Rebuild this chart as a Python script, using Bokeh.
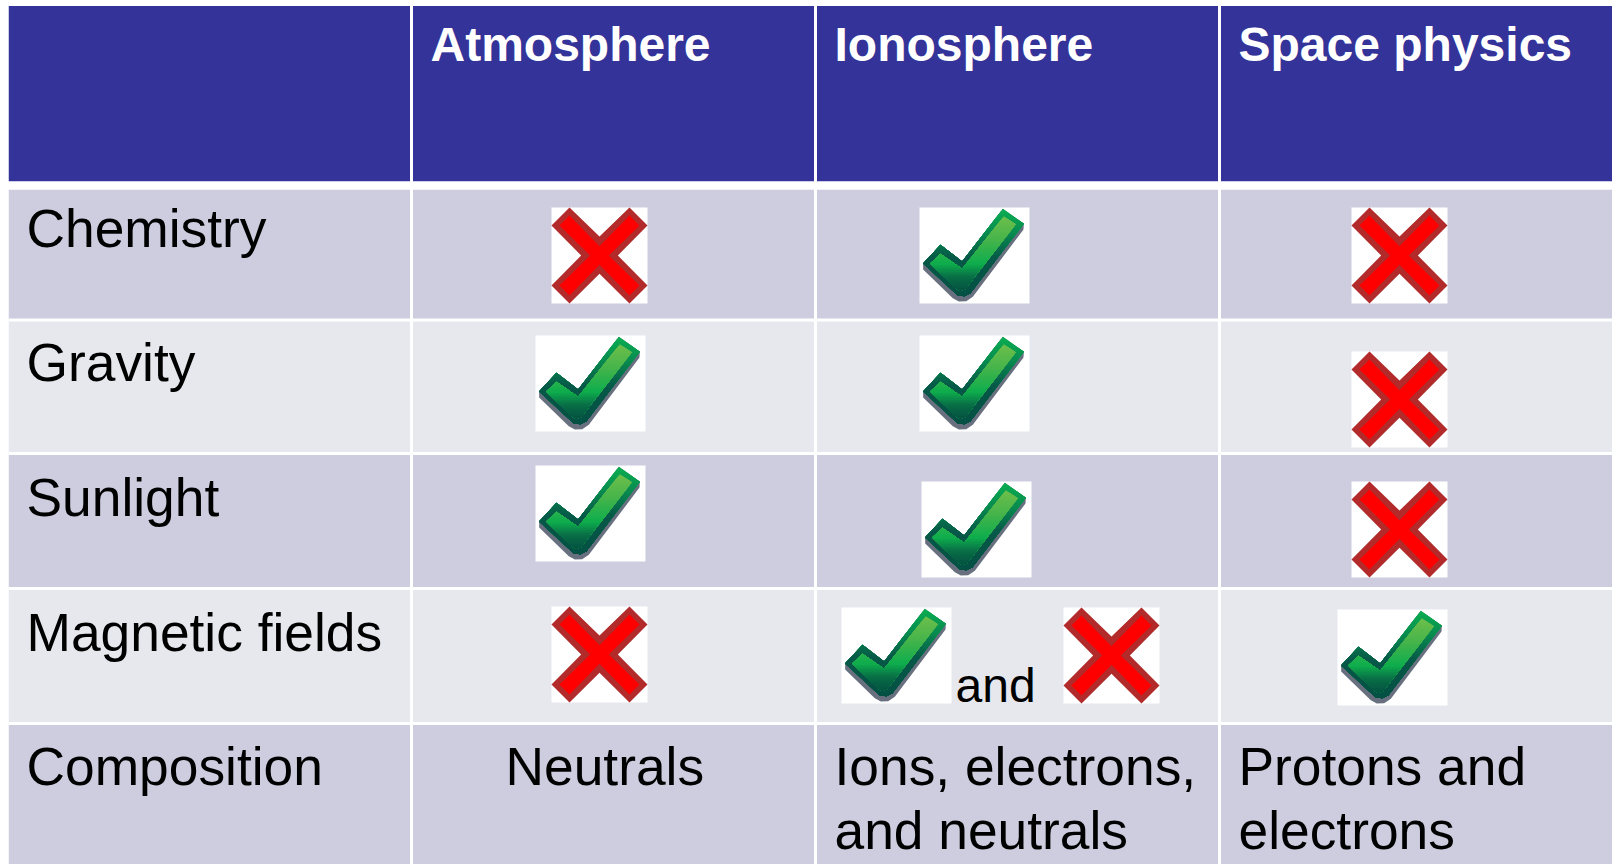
from bokeh.plotting import figure
from bokeh.embed import file_html
from bokeh.resources import INLINE
from bokeh.core.properties import value
from bokeh.models import Range1d
import numpy as np

# ---- content ----
columns = ["Atmosphere", "Ionosphere", "Space physics"]
rows = ["Chemistry", "Gravity", "Sunlight", "Magnetic fields", "Composition"]
marks_atmosphere = ["x", "check", "check", "x"]
marks_ionosphere = ["check", "check", "check", "check+x"]
marks_space = ["x", "x", "x", "check"]
composition = ["Neutrals", "Ions, electrons,\nand neutrals", "Protons and\nelectrons"]

# ---- layout (page pixels) ----
W, H = 1612, 864
COL_EDGES = [8, 411, 815, 1219, 1612]
ROW_EDGES = [189, 319.5, 453, 588, 723, 864]
HEAD_TOP, HEAD_BOTTOM = 5.5, 181
GRID_W = 3
TEXT_X = [26, 430, 834, 1238]
TEXT_DY = -0.36          # share of the font size
HEAD_BASE = 61
ROW_BASE = [247, 381, 516, 651, 785]
LINE_GAP = 64
NEUTRALS_X = 505
ICON_CHECK_W, ICON_H, ICON_X_W = 110, 96, 96
POS = {
    (0, 0): [551, 207], (1, 0): [919, 207], (2, 0): [1351, 207],
    (0, 1): [535, 335], (1, 1): [919, 335], (2, 1): [1351, 351],
    (0, 2): [535, 465], (1, 2): [921, 481], (2, 2): [1351, 481],
    (0, 3): [551, 606], (2, 3): [1337, 609],
}
POS_BOTH = [[841, 607], [1063, 607]]
AND_POS = (955, 702)

HEAD_C, ODD_C, EVEN_C = "#333399", "#cdcddf", "#e7e8ee"
FONT = value("Liberation Sans")

p = figure(width=W - 8, height=H, output_backend="svg", toolbar_location=None,
           x_range=Range1d(8, W), y_range=Range1d(H, 0), min_border=0,
           outline_line_color=None, background_fill_color="white",
           border_fill_color="white",
           styles={"position": "absolute", "left": "8px", "top": "0px"})
p.axis.visible = False
p.grid.visible = False


def rect(x0, x1, y0, y1, color):
    p.quad(left=[x0], right=[x1], top=[y0], bottom=[y1], fill_color=color, line_color=None)


# header + bands
rect(COL_EDGES[0], W, HEAD_TOP, HEAD_BOTTOM, HEAD_C)
for i in range(len(rows)):
    rect(COL_EDGES[0], W, ROW_EDGES[i], ROW_EDGES[i + 1], ODD_C if i % 2 == 0 else EVEN_C)
for y in ROW_EDGES[1:-1]:
    rect(COL_EDGES[0], W, y - GRID_W / 2, y + GRID_W / 2, "white")
for x in COL_EDGES[1:-1]:
    rect(x - GRID_W / 2, x + GRID_W / 2, HEAD_TOP, H, "white")
rect(COL_EDGES[0], W, HEAD_BOTTOM, ROW_EDGES[0], "white")


# ---- icons, drawn in a unit box ----
X_OUT = [(54, 0), (144, 87), (234, 0), (288, 54), (199, 144), (288, 234), (234, 288), (144, 199),
         (54, 288), (0, 234), (89, 144), (0, 54)]
X_IN = [(54, 24), (144, 116), (234, 24), (264, 54), (172, 144), (264, 234), (234, 264), (144, 172),
        (54, 264), (24, 234), (116, 144), (24, 54)]
CK_SHADOW = [(250, 4), (313, 49), (312, 66), (160, 268), (140, 281), (118, 282), (100, 272), (11, 186),
             (11, 168), (63, 112), (128, 162)]
CK_EDGE = [(250, 4), (313, 49), (152, 258), (135, 266), (115, 264), (11, 168), (63, 112), (128, 162)]
CK_INNER = [(253, 26), (289, 50), (137, 245), (122, 250), (108, 243), (32, 168), (63, 139), (128, 184)]
BW, BH = 330.0, 288.0


def clip_below(poly, yc):
    """Polygon part with y >= yc."""
    out = []
    n = len(poly)
    for k in range(n):
        a, b = poly[k], poly[(k + 1) % n]
        if a[1] >= yc:
            out.append(a)
        if (a[1] >= yc) != (b[1] >= yc):
            t = (yc - a[1]) / (b[1] - a[1])
            out.append((a[0] + t * (b[0] - a[0]), yc))
    return out


def lerp_stops(stops, t):
    ys = [s[0] for s in stops]
    c = [np.interp(t, ys, [s[1][i] for s in stops]) for i in range(3)]
    return "#%02x%02x%02x" % tuple(int(round(v)) for v in c)


def poly(pts, bx, by, sx, sy, color):
    p.patch([bx + q[0] * sx for q in pts], [by + q[1] * sy for q in pts], fill_color=color, line_color=None)


def grad(pts, bx, by, sx, sy, stops, n=32):
    y0, y1 = min(q[1] for q in pts), max(q[1] for q in pts)
    for k in range(n):
        yc = y0 + (y1 - y0) * k / n
        c = clip_below(pts, yc)
        if len(c) >= 3:
            poly(c, bx, by, sx, sy, lerp_stops(stops, (yc - y0) / (y1 - y0)))


EDGE_STOPS = [(0, (10, 172, 80)), (0.25, (8, 140, 80)), (0.55, (6, 88, 72)), (1, (4, 80, 68))]
IN_STOPS = [(0, (108, 190, 75)), (0.3, (70, 180, 75)), (0.62, (14, 174, 76)), (0.8, (8, 110, 70)), (1, (4, 78, 64))]


def icon_x(bx, by):
    sx, sy = ICON_X_W / 288.0, ICON_H / 288.0
    rect(bx, bx + ICON_X_W, by, by + ICON_H, "white")
    poly(X_OUT, bx, by, sx, sy, "#b22a2a")
    poly(X_IN, bx, by, sx, sy, "#ff0000")


def icon_check(bx, by):
    sx, sy = ICON_CHECK_W / BW, ICON_H / BH
    rect(bx, bx + ICON_CHECK_W, by, by + ICON_H, "white")
    poly(CK_SHADOW, bx, by, sx, sy, "#68707f")
    grad(CK_EDGE, bx, by, sx, sy, EDGE_STOPS)
    grad(CK_INNER, bx, by, sx, sy, IN_STOPS)


for c, marks in enumerate([marks_atmosphere, marks_ionosphere, marks_space]):
    for r, m in enumerate(marks):
        if m == "x":
            icon_x(*POS[(c, r)])
        elif m == "check":
            icon_check(*POS[(c, r)])
        else:
            icon_check(*POS_BOTH[0])
            icon_x(*POS_BOTH[1])


def text(xs, ys, labels, size, color="black", style="normal"):
    p.text(x=xs, y=[v + TEXT_DY * size for v in ys], text=labels, text_font=FONT,
           text_font_size=f"{size}px", text_color=color,
           text_font_style=style, text_baseline="alphabetic", text_align="left")


# ---- text ----
text(TEXT_X[1:], [HEAD_BASE] * 3, columns, 48, "white", "bold")
text([TEXT_X[0]] * len(rows), ROW_BASE, rows, 53.33)
text([AND_POS[0]], [AND_POS[1]], ["and"], 48)
comp_x = [NEUTRALS_X, TEXT_X[2], TEXT_X[3]]
for x, s in zip(comp_x, composition):
    for j, line in enumerate(s.split("\n")):
        text([x], [ROW_BASE[4] + j * LINE_GAP], [line], 53.33)

open("out.html", "w").write(file_html(p, INLINE))
